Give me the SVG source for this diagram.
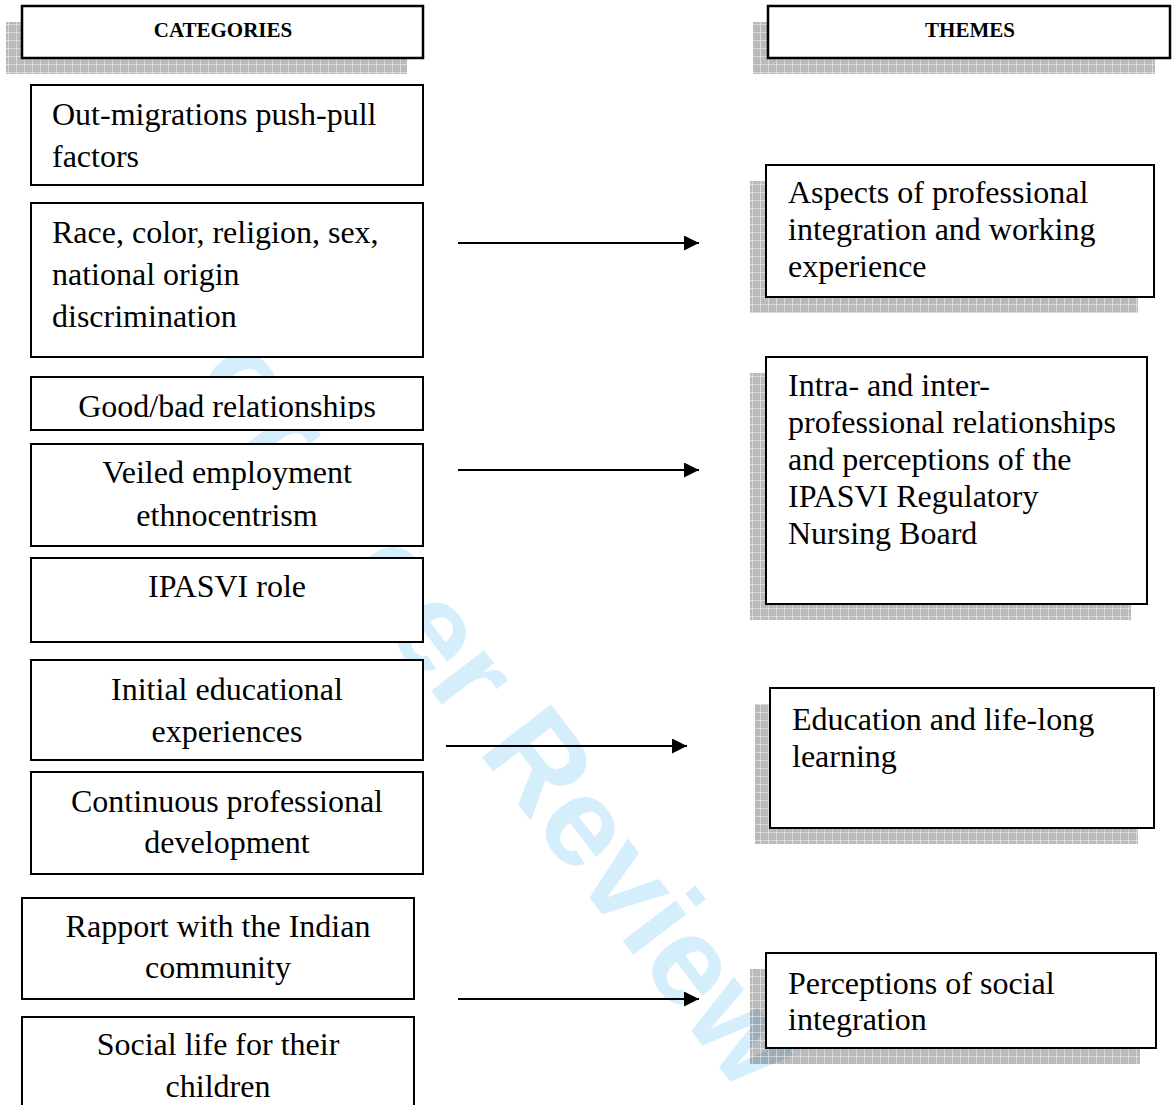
<svg xmlns="http://www.w3.org/2000/svg" width="1173" height="1105" viewBox="0 0 1173 1105">
<style>
.box{fill:#fff;stroke:#000;stroke-width:2}
.hdr{fill:#fff;stroke:#000;stroke-width:2.5}
.sh{fill:url(#grid)}
.t{font-family:"Liberation Serif","Times New Roman",serif;font-size:32px;fill:#000}
.c{text-anchor:middle}
.h{font-family:"Liberation Serif","Times New Roman",serif;font-size:21px;font-weight:bold;text-anchor:middle;fill:#000}
.wm{font-family:"Liberation Sans",Arial,sans-serif;font-size:126px;font-weight:bold;fill:#d4eefb;text-anchor:middle}
.ln{stroke:#000;stroke-width:2;fill:none}
</style>
<defs>
<pattern id="grid" width="8" height="8" patternUnits="userSpaceOnUse">
<rect width="8" height="8" fill="#000" fill-opacity="0.27"/>
<path d="M0 0.5H8M0.5 0V8" stroke="#fff" stroke-opacity="0.45" stroke-width="1"/>
</pattern>
<marker id="ah" markerWidth="16" markerHeight="15" refX="15" refY="7.5" orient="auto" markerUnits="userSpaceOnUse">
<path d="M0 0L15 7.5L0 15Z" fill="#000"/>
</marker>
<clipPath id="clipGB"><rect x="31" y="377" width="392" height="42"/></clipPath>
</defs>
<rect width="1173" height="1105" fill="#fff"/>
<text class="wm" transform="translate(443,706) rotate(52.6)">For Peer Review</text>

<g id="shadows">
<rect class="sh" x="6" y="22" width="401" height="52"/>
<rect class="sh" x="753" y="22" width="402" height="52"/>
<rect class="sh" x="750" y="181" width="388" height="132"/>
<rect class="sh" x="750" y="373" width="381" height="247"/>
<rect class="sh" x="755" y="704" width="383" height="140"/>
<rect class="sh" x="750" y="969" width="390" height="95"/>
</g>

<g id="categories">
<rect class="hdr" x="22" y="6" width="401" height="52"/>
<text class="h" x="223" y="37">CATEGORIES</text>
</g>
<g id="themes">
<rect class="hdr" x="768" y="6" width="402" height="52"/>
<text class="h" x="970" y="37">THEMES</text>
</g>

<g id="c1">
<rect class="box" x="31" y="85" width="392" height="100"/>
<text class="t" x="52" y="125">Out-migrations push-pull</text>
<text class="t" x="52" y="167">factors</text>
</g>
<g id="c2">
<rect class="box" x="31" y="203" width="392" height="154"/>
<text class="t" x="52" y="243">Race, color, religion, sex,</text>
<text class="t" x="52" y="285">national origin</text>
<text class="t" x="52" y="327">discrimination</text>
</g>
<g id="c3">
<rect class="box" x="31" y="377" width="392" height="53"/>
<text class="t c" x="227" y="417" clip-path="url(#clipGB)">Good/bad relationships</text>
</g>
<g id="c4">
<rect class="box" x="31" y="444" width="392" height="102"/>
<text class="t c" x="227" y="483">Veiled employment</text>
<text class="t c" x="227" y="526">ethnocentrism</text>
</g>
<g id="c5">
<rect class="box" x="31" y="558" width="392" height="84"/>
<text class="t c" x="227" y="597">IPASVI role</text>
</g>
<g id="c6">
<rect class="box" x="31" y="660" width="392" height="100"/>
<text class="t c" x="227" y="700">Initial educational</text>
<text class="t c" x="227" y="742">experiences</text>
</g>
<g id="c7">
<rect class="box" x="31" y="772" width="392" height="102"/>
<text class="t c" x="227" y="812">Continuous professional</text>
<text class="t c" x="227" y="853">development</text>
</g>
<g id="c8">
<rect class="box" x="22" y="898" width="392" height="101"/>
<text class="t c" x="218" y="937">Rapport with the Indian</text>
<text class="t c" x="218" y="978">community</text>
</g>
<g id="c9">
<rect class="box" x="22" y="1017" width="392" height="100"/>
<text class="t c" x="218" y="1055">Social life for their</text>
<text class="t c" x="218" y="1097">children</text>
</g>

<g id="t1">
<rect class="box" x="766" y="165" width="388" height="132"/>
<text class="t" x="788" y="203">Aspects of professional</text>
<text class="t" x="788" y="240">integration and working</text>
<text class="t" x="788" y="277">experience</text>
</g>
<g id="t2">
<rect class="box" x="766" y="357" width="381" height="247"/>
<text class="t" x="788" y="396">Intra- and inter-</text>
<text class="t" x="788" y="433">professional relationships</text>
<text class="t" x="788" y="470">and perceptions of the</text>
<text class="t" x="788" y="507">IPASVI Regulatory</text>
<text class="t" x="788" y="544">Nursing Board</text>
</g>
<g id="t3">
<rect class="box" x="770" y="688" width="384" height="140"/>
<text class="t" x="792" y="730">Education and life-long</text>
<text class="t" x="792" y="767">learning</text>
</g>
<g id="t4">
<rect class="box" x="766" y="953" width="390" height="95"/>
<text class="t" x="788" y="994">Perceptions of social</text>
<text class="t" x="788" y="1030">integration</text>
</g>

<g id="connectors">
<line class="ln" x1="458" y1="243" x2="699" y2="243" marker-end="url(#ah)"/>
<line class="ln" x1="458" y1="470" x2="699" y2="470" marker-end="url(#ah)"/>
<line class="ln" x1="446" y1="746" x2="687" y2="746" marker-end="url(#ah)"/>
<line class="ln" x1="458" y1="999" x2="699" y2="999" marker-end="url(#ah)"/>
</g>
</svg>
